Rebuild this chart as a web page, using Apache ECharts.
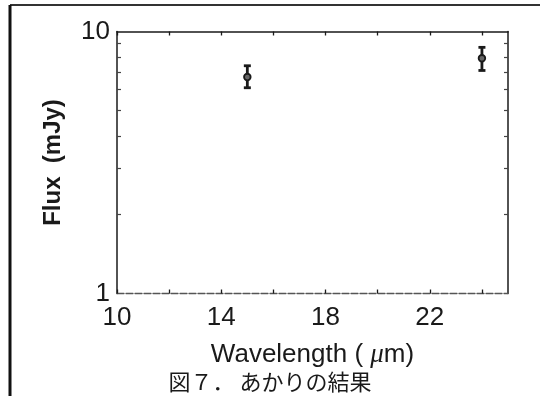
<!DOCTYPE html>
<html>
<head>
<meta charset="utf-8">
<script src="https://cdn.jsdelivr.net/npm/echarts@6/dist/echarts.min.js"></script>
<style>
html,body{margin:0;padding:0;background:#fff;}
#c{width:540px;height:396px;}
</style>
</head>
<body>
<div id="c"></div>
<script>
// ---- data ----
const wavelength = [15, 24];          // μm
const flux = [6.7, 7.9];              // mJy
const fluxLow = [6.1, 7.1];           // lower error bound
const fluxHigh = [7.4, 8.7];          // upper error bound
const xTickLabels = [10, 14, 18, 22];
const xTicks = [10, 12, 14, 16, 18, 20, 22, 24];
const yTickLabels = [1, 10];
const yMinorTicks = [2, 3, 4, 5, 6, 7, 8, 9];
const xName = 'Wavelength';
const yName = 'Flux  (mJy)';
const caption = '図７． あかりの結果';

const ink = '#1a1a1a';
const data = wavelength.map((w, i) => [w, flux[i], fluxLow[i], fluxHigh[i]]);

const chart = echarts.init(document.getElementById('c'));
chart.setOption({
  backgroundColor: '#fff',
  animation: false,
  grid: { left: 117, right: 32, top: 31.5, bottom: 102.5, containLabel: false, outerBoundsMode: 'none' },
  xAxis: [{
    type: 'value', position: 'bottom', min: 10, max: 25, interval: 2,
    name: xName + ' ( {i|μ}m)', nameLocation: 'middle', nameGap: 48,
    nameTextStyle: { fontFamily: 'Liberation Sans', fontSize: 26, color: ink,
      rich: { i: { fontFamily: 'Liberation Serif', fontStyle: 'italic', fontSize: 27, color: ink } } },
    axisLine: { show: true, lineStyle: { color: '#555', width: 1.3, type: [7, 2] } },
    axisTick: { show: true, inside: true, length: 4, customValues: xTicks, lineStyle: { color: ink, width: 1.3 } },
    axisLabel: { show: true, customValues: xTickLabels, margin: 11, fontFamily: 'Liberation Sans', fontSize: 26, color: ink },
    splitLine: { show: false }
  }, {
    type: 'value', position: 'top', min: 10, max: 25, interval: 2,
    axisLine: { show: true, lineStyle: { color: ink, width: 1.5 } },
    axisTick: { show: true, inside: true, length: 4, customValues: xTicks, lineStyle: { color: ink, width: 1.3 } },
    axisLabel: { show: false },
    splitLine: { show: false }
  }],
  yAxis: [{
    type: 'log', logBase: 10, min: 1, max: 10, position: 'left',
    name: yName, nameLocation: 'middle', nameGap: 52,
    nameTextStyle: { fontFamily: 'Liberation Sans', fontSize: 24, fontWeight: 'bold', color: ink },
    axisLine: { show: true, lineStyle: { color: ink, width: 1.5 } },
    axisTick: { show: true, inside: true, length: 4, customValues: yMinorTicks, lineStyle: { color: '#444', width: 1.2 } },
    axisLabel: { show: true, customValues: yTickLabels, margin: 7, fontFamily: 'Liberation Sans', fontSize: 26, color: ink },
    splitLine: { show: false }
  }, {
    type: 'log', logBase: 10, min: 1, max: 10, position: 'right',
    axisLine: { show: true, lineStyle: { color: ink, width: 1.5 } },
    axisTick: { show: true, inside: true, length: 4, customValues: yMinorTicks, lineStyle: { color: '#444', width: 1.2 } },
    axisLabel: { show: false },
    splitLine: { show: false }
  }],
  series: [{
    type: 'custom',
    xAxisIndex: 0, yAxisIndex: 0,
    encode: { x: 0, y: [1, 2, 3] },
    data: data,
    renderItem: function (params, api) {
      const x = api.value(0);
      const p = api.coord([x, api.value(1)]);
      const lo = api.coord([x, api.value(2)]);
      const hi = api.coord([x, api.value(3)]);
      const cw = 3.5;
      const st = { stroke: ink, lineWidth: 2.8 };
      return {
        type: 'group',
        children: [
          { type: 'line', shape: { x1: p[0], y1: hi[1], x2: p[0], y2: lo[1] }, style: st },
          { type: 'line', shape: { x1: p[0] - cw, y1: hi[1], x2: p[0] + cw, y2: hi[1] }, style: st },
          { type: 'line', shape: { x1: p[0] - cw, y1: lo[1], x2: p[0] + cw, y2: lo[1] }, style: st },
          { type: 'circle', shape: { cx: p[0], cy: p[1], r: 3.3 }, style: { fill: '#666', stroke: ink, lineWidth: 1.8 } }
        ]
      };
    }
  }],
  graphic: [
    { type: 'line', shape: { x1: 10, y1: 5, x2: 540, y2: 5 }, style: { stroke: '#333', lineWidth: 2 } },
    { type: 'line', shape: { x1: 10, y1: 5, x2: 10, y2: 396 }, style: { stroke: '#111', lineWidth: 3 } },
    { type: 'text', x: 270, y: 382, style: { text: caption, fontFamily: 'Noto Sans CJK JP', fontSize: 22, fill: ink, align: 'center', verticalAlign: 'middle' } }
  ]
});
</script>
</body>
</html>
